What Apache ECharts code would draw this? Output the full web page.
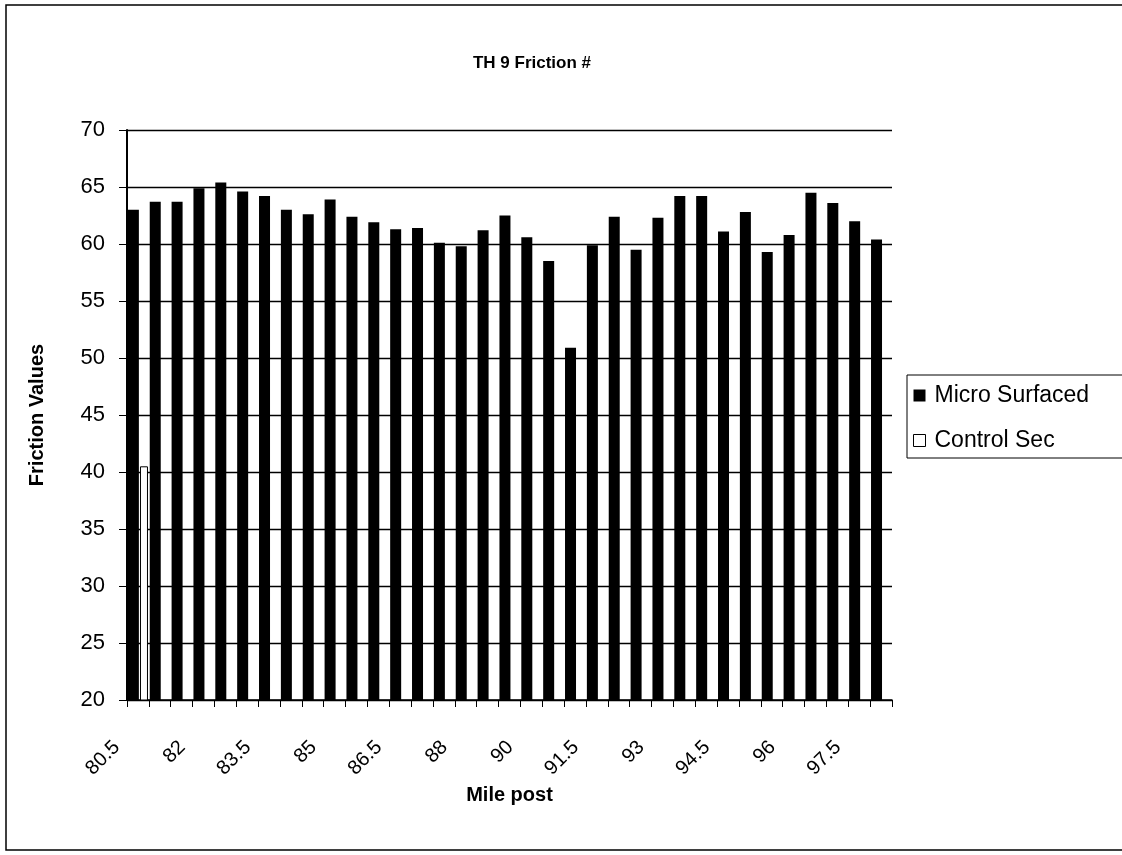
<!DOCTYPE html>
<html>
<head>
	<meta charset="utf-8">
	<script src="https://cdn.jsdelivr.net/npm/echarts@6/dist/echarts.min.js"></script>
</head>
<body style="margin:0;background:#fff;">
	<div id="main" style="width:1122px;height:855px;"></div>
</body>
<script type="text/javascript">
// mile posts (35 sections)
var mileposts = ['80.5','81','81.5','82','82.5','83','83.5','84','84.5','85','85.5','86','86.5','87','87.5','88','88.5','89','90','90.5','91','91.5','92','92.5','93','93.5','94','94.5','95','95.5','96','96.5','97','97.5','98'];
var microSurfaced = [63.0,63.7,63.7,64.9,65.4,64.6,64.2,63.0,62.6,63.9,62.4,61.9,61.3,61.4,60.1,59.8,61.2,62.5,60.6,58.5,50.9,59.9,62.4,59.5,62.3,64.2,64.2,61.1,62.8,59.3,60.8,64.5,63.6,62.0,60.4];
var controlSec = [40.5];

var font = 'Liberation Sans, Arial, sans-serif';

var myChart = echarts.init(document.getElementById('main'));
var option = {
	animation: false,
	backgroundColor: '#fff',
	title: {
		text: 'TH 9 Friction #',
		left: 527,
		top: 50,
		textAlign: 'center',
		textStyle: { fontFamily: font, fontSize: 17, fontWeight: 'bold', color: '#000' }
	},
	graphic: [{
		type: 'rect',
		shape: { x: 6, y: 5, width: 1125, height: 845 },
		style: { fill: 'none', stroke: '#000', lineWidth: 1.5 },
		silent: true
	}],
	legend: {
		orient: 'vertical',
		left: 907,
		top: 375,
		itemWidth: 12,
		itemHeight: 12,
		itemGap: 22,
		padding: [9, 60, 6, 6],
		borderColor: '#000',
		borderWidth: 1,
		borderRadius: 0,
		icon: 'rect',
		textStyle: { fontFamily: font, fontSize: 23, color: '#000', padding: [0, 0, 0, 4] },
		data: [
			{ name: 'Micro Surfaced', itemStyle: { color: '#000' } },
			{ name: 'Control Sec', itemStyle: { color: '#fff', borderColor: '#000', borderWidth: 1 } }
		]
	},
	grid: {
		left: 127,
		top: 130,
		right: 230,
		bottom: 155
	},
	xAxis: {
		type: 'category',
		data: mileposts,
		name: 'Mile post',
		nameLocation: 'middle',
		nameGap: 77,
		nameTextStyle: { fontFamily: font, fontSize: 20, fontWeight: 'bold', color: '#000' },
		axisLine: { lineStyle: { color: '#000', width: 1.5 } },
		axisTick: { show: true, interval: 0, length: 7, lineStyle: { color: '#000' } },
		axisLabel: {
			interval: 2,
			rotate: 45,
			margin: 23,
			padding: [0, 30, 0, 0],
			fontFamily: font,
			fontSize: 20,
			color: '#000'
		},
		splitLine: { show: false }
	},
	yAxis: {
		type: 'value',
		min: 20,
		max: 70,
		interval: 5,
		name: 'Friction Values',
		nameLocation: 'middle',
		nameGap: 80,
		nameTextStyle: { fontFamily: font, fontSize: 20, fontWeight: 'bold', color: '#000' },
		axisLine: { show: true, lineStyle: { color: '#000', width: 2 } },
		axisTick: { show: true, length: 8, lineStyle: { color: '#000' } },
		axisLabel: { fontFamily: font, fontSize: 22, color: '#000', margin: 22 },
		splitLine: { show: true, lineStyle: { color: '#000', width: 1.3 } }
	},
	series: [{
		name: 'Micro Surfaced',
		type: 'bar',
		data: microSurfaced,
		barWidth: 11,
		barGap: '10%',
		itemStyle: { color: '#000' }
	}, {
		name: 'Control Sec',
		type: 'bar',
		data: controlSec,
		barWidth: 8,
		itemStyle: { color: '#fff', borderColor: '#000', borderWidth: 1 }
	}]
};
myChart.setOption(option);
</script>
</html>
